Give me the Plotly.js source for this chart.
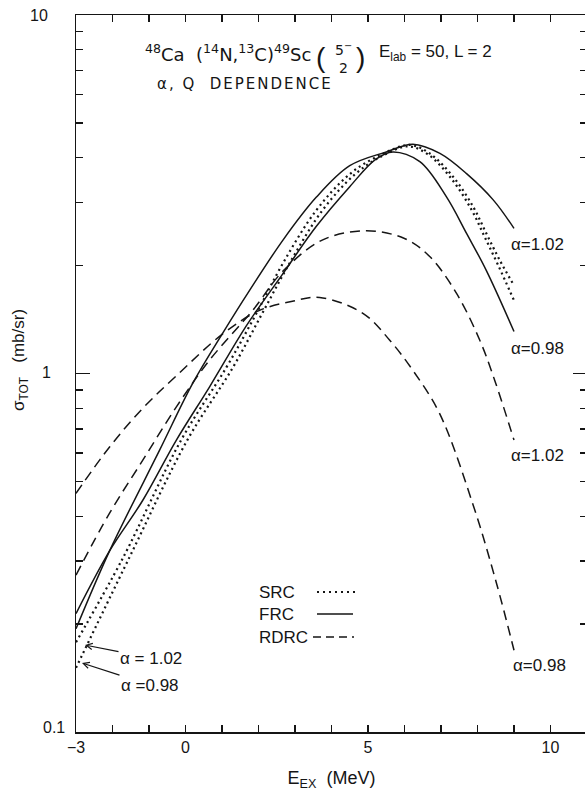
<!DOCTYPE html>
<html><head><meta charset="utf-8">
<script src="https://cdn.plot.ly/plotly-3.0.1.min.js"></script>
<style>html,body{margin:0;padding:0;overflow:hidden;background:#fff}#chart{width:590px;height:791px}</style>
</head><body><div id="chart"></div>
<script>
// ---- data (E_EX in MeV, sigma_TOT in mb/sr) ----
const xSrc102 = [-3, -1.72, -0.12, 1.12, 1.94, 2.67, 3.58, 4.50, 5.30, 6.14, 6.69, 7.33, 7.88, 8.24, 8.61, 9.0];
const ySrc102 = [0.178, 0.305, 0.652, 1.04, 1.47, 2.03, 2.85, 3.6, 4.05, 4.34, 4.11, 3.54, 2.92, 2.46, 2.07, 1.76];
const xSrc098 = [-3, -1.55, 0.05, 1.30, 2.10, 2.85, 3.75, 4.65, 5.40, 6.10, 6.65, 7.28, 7.83, 8.20, 8.57, 9.0];
const ySrc098 = [0.151, 0.305, 0.652, 1.04, 1.47, 2.03, 2.85, 3.6, 4.05, 4.30, 4.08, 3.50, 2.87, 2.40, 2.00, 1.60];

const xFrc102 = [-3, -2.08, -0.71, 0.20, 1.02, 1.76, 2.67, 3.58, 4.50, 5.50, 6.23, 6.97, 7.70, 8.43, 9.0];
const yFrc102 = [0.194, 0.32, 0.611, 0.94, 1.296, 1.708, 2.356, 3.10, 3.80, 4.15, 4.36, 4.11, 3.61, 3.05, 2.54];
const xFrc098 = [-3, -2.08, -1.17, -0.25, 0.66, 1.67, 2.67, 3.58, 4.50, 5.20, 5.68, 6.42, 7.15, 7.70, 8.24, 9.0];
const yFrc098 = [0.214, 0.32, 0.443, 0.652, 0.918, 1.36, 1.90, 2.57, 3.32, 3.95, 4.15, 3.90, 3.11, 2.46, 1.94, 1.31];

const xRdrc102 = [-3, -2.08, -1.17, -0.25, 0.66, 1.84, 2.67, 3.76, 4.955, 6.00, 6.69, 7.43, 8.06, 8.47, 9.0];
const yRdrc102 = [0.274, 0.408, 0.573, 0.807, 1.09, 1.50, 1.93, 2.36, 2.50, 2.38, 2.12, 1.67, 1.24, 0.958, 0.652];
const xRdrc098 = [-3, -2.08, -1.17, -0.25, 1.02, 2.03, 2.93, 3.675, 4.87, 5.59, 6.23, 6.96, 7.88, 8.52, 9.0];
const yRdrc098 = [0.463, 0.624, 0.80, 0.985, 1.29, 1.50, 1.59, 1.63, 1.47, 1.24, 1.02, 0.774, 0.43, 0.26, 0.169];

const xTickVals = [-3, 0, 5, 10];
const xTickText = ['\u22123', '0', '5', '10'];
const xMinorVals = [-2, -1, 1, 2, 3, 4, 6, 7, 8, 9];
const yTickVals = [0.1, 1, 10];
const yMinorVals = [0.2, 0.3, 0.4, 0.5, 0.6, 0.7, 0.8, 0.9, 2, 3, 4, 5, 6, 7, 8, 9];

// ---- styling ----
const INK = '#151515';
const FONT = 'Liberation Sans, Arial, sans-serif';
const WIDE = 'DejaVu Sans, Liberation Sans, sans-serif';
const solid = {color: INK, width: 1.5, dash: 'solid', shape: 'spline', smoothing: 1};
const dashed = {color: INK, width: 1.5, dash: '10px,6px', shape: 'spline', smoothing: 1};
const dotted = {color: INK, width: 2.2, dash: '2px,3.5px', shape: 'spline', smoothing: 1};

function tr(x, y, line, name) {
  return {type: 'scatter', mode: 'lines', x: x, y: y, line: line, name: name, showlegend: false, hoverinfo: 'skip'};
}
const data = [
  tr(xSrc102, ySrc102, dotted, 'SRC α=1.02'),
  tr(xSrc098, ySrc098, dotted, 'SRC α=0.98'),
  tr(xFrc102, yFrc102, solid, 'FRC α=1.02'),
  tr(xFrc098, yFrc098, solid, 'FRC α=0.98'),
  tr(xRdrc102, yRdrc102, dashed, 'RDRC α=1.02'),
  tr(xRdrc098, yRdrc098, dashed, 'RDRC α=0.98')
];

const L = 76, R = 587, T = 15, B = 732;
const px = v => (v - L) / (R - L);
const py = v => (B - v) / (B - T);

function txt(text, x, y, size, xanchor, extra, fam) {
  return Object.assign({text: text, xref: 'paper', yref: 'paper', x: px(x), y: py(y),
    xanchor: xanchor || 'left', yanchor: 'middle', showarrow: false,
    font: {family: fam || FONT, size: size, color: INK}}, extra || {});
}

const annotations = [
  txt('10', 50, 16, 16, 'right'),
  txt('1', 46, 372, 16, 'center'),
  txt('0.1', 67, 727, 16, 'right'),
  txt('σ<sub>TOT</sub>   (mb/sr)', 20, 360, 17, 'center', {textangle: -90}),
  txt('<sup>48</sup>Ca  (<sup>14</sup>N,<sup>13</sup>C)<sup>49</sup>Sc', 313, 53, 18, 'right', null, WIDE),
  txt('(', 321, 57, 28, 'center'),
  txt('5<sup>−</sup><br>2', 343, 58, 14, 'center', null, WIDE),
  txt(')', 360, 57, 28, 'center'),
  txt('E<sub>lab</sub> = 50, L = 2', 377, 53, 17, 'left'),
  txt('α, Q  DEPENDENCE', 245, 84, 15, 'center', null, WIDE),
  txt('α=1.02', 509, 245, 17, 'left'),
  txt('α=0.98', 509, 348, 17, 'left'),
  txt('α=1.02', 509, 455, 17, 'left'),
  txt('α=0.98', 511, 665, 17, 'left'),
  txt('SRC', 257, 592, 17, 'left'),
  txt('FRC', 257, 614, 17, 'left'),
  txt('RDRC', 257, 637, 17, 'left'),
  {text: 'α = 1.02', xref: 'paper', yref: 'paper', x: px(85), y: py(645), ax: 66, ay: 13,
   showarrow: true, arrowhead: 5, arrowsize: 1, arrowwidth: 1.2, arrowcolor: INK,
   font: {family: FONT, size: 17, color: INK}},
  {text: 'α =0.98', xref: 'paper', yref: 'paper', x: px(82), y: py(663), ax: 68, ay: 22,
   showarrow: true, arrowhead: 5, arrowsize: 1, arrowwidth: 1.2, arrowcolor: INK,
   font: {family: FONT, size: 17, color: INK}}
];

function key(x0, x1, y, dash, w) {
  return {type: 'line', xref: 'paper', yref: 'paper', x0: px(x0), x1: px(x1), y0: py(y), y1: py(y),
    line: {color: INK, width: w, dash: dash}};
}
const shapes = [
  key(317, 356, 592, '2px,4px', 2.2),
  key(317, 353, 614, 'solid', 1.5),
  key(313, 354, 637, '8px,5px', 1.5)
];

const layout = {
  width: 590, height: 791,
  margin: {l: L, r: 590 - R, t: T, b: 791 - B, pad: 0},
  paper_bgcolor: '#fff', plot_bgcolor: '#fff',
  font: {family: FONT, color: INK},
  xaxis: {
    range: [-3, 11], showgrid: false, zeroline: false,
    showline: true, linecolor: INK, linewidth: 1.5, mirror: 'ticks',
    ticks: 'inside', ticklen: 7, tickwidth: 1.3, tickcolor: INK,
    tickmode: 'array', tickvals: xTickVals, ticktext: xTickText,
    tickfont: {family: FONT, size: 16, color: INK},
    minor: {tickmode: 'array', tickvals: xMinorVals, ticks: 'inside', ticklen: 7, tickwidth: 1.3, tickcolor: INK, showgrid: false},
    title: {text: 'E<sub>EX</sub>  (MeV)', font: {family: FONT, size: 18, color: INK}, standoff: 18}
  },
  yaxis: {
    type: 'log', range: [-1, 1], showgrid: false, zeroline: false,
    showline: true, linecolor: INK, linewidth: 1.5, mirror: 'ticks',
    ticks: 'inside', ticklen: 14, tickwidth: 1.3, tickcolor: INK,
    tickmode: 'array', tickvals: yTickVals, showticklabels: false,
    minor: {tickmode: 'array', tickvals: yMinorVals, ticks: 'inside', ticklen: 7, tickwidth: 1.3, tickcolor: INK, showgrid: false}
  },
  annotations: annotations,
  shapes: shapes,
  showlegend: false
};

Plotly.newPlot('chart', data, layout, {staticPlot: true, displayModeBar: false}).then(function (gd) {
  // the original lettering is widely spaced
  gd.querySelectorAll('g.annotation text').forEach(function (t) {
    if (t.textContent.indexOf('DEPENDENCE') >= 0) t.style.letterSpacing = '2px';
  });
});
</script>
</body></html>
